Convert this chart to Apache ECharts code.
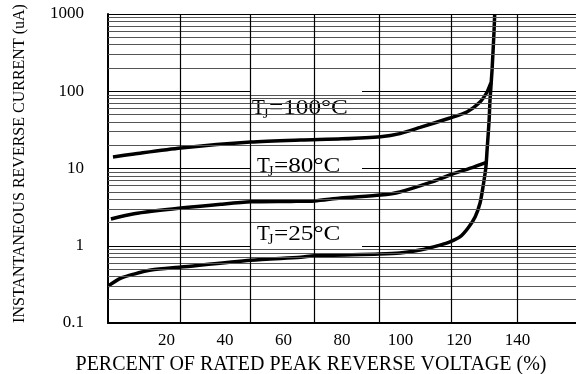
<!DOCTYPE html>
<html><head><meta charset="utf-8">
<script src="https://cdn.jsdelivr.net/npm/echarts@6/dist/echarts.min.js"></script>
<style>html,body{margin:0;padding:0;background:#fff}#c{width:576px;height:374px}</style>
</head><body><div id="c"></div>
<script>
// ---- data (x: percent of rated peak reverse voltage, y: reverse current uA) ----
const xTicks = [20, 40, 60, 80, 100, 120, 140];
const yTicks = [0.1, 1, 10, 100, 1000];

const x25 = [0, 4.4, 8.9, 14.7, 24.9, 48.8, 65.9, 70.6, 92.6, 99.8, 106.7, 113.5, 116.9, 120.3, 123.1, 125.5, 127.2, 128.2, 129.2, 129.6, 130.3, 130.6, 131.3, 132.0, 132.2];
const y25 = [0.30, 0.38, 0.43, 0.485, 0.53, 0.65, 0.71, 0.74, 0.78, 0.805, 0.88, 1.02, 1.12, 1.30, 1.70, 2.36, 3.58, 5.76, 10.5, 17.3, 42.4, 77, 188, 621, 1000];

const x80 = [1, 8.9, 24.9, 38.6, 48.8, 62.5, 70.6, 79.5, 93.2, 99.8, 110.2, 116.9, 123.9, 129.6];
const y80 = [2.22, 2.6, 3.08, 3.45, 3.7, 3.75, 3.8, 4.15, 4.54, 4.97, 6.6, 8.24, 10.1, 12.1];

const x100 = [1.7, 8.9, 24.9, 48.8, 65.9, 80, 93.2, 99.8, 106.7, 116.9, 122.7, 127.2, 129.6, 130.9];
const y100 = [14.1, 15.4, 18.4, 22.0, 23.4, 24.2, 25.8, 28.3, 34.0, 45.1, 53.9, 72.6, 97.8, 128];

// grid reference values (chart paper)
const gridX = [24.6, 48.5, 70.4, 92.6, 117.3, 139.8];
const minorMult = [2, 3, 4, 5, 6, 7, 8, 9];
const decades = [0.1, 1, 10, 100];

const serif = 'Liberation Serif';
const pair = (xs, ys) => xs.map((x, i) => [x, ys[i]]);
const minorVals = [];
decades.forEach(d => minorMult.forEach(m => minorVals.push(+(d * m).toPrecision(3))));

const chart = echarts.init(document.getElementById('c'), null, {renderer: 'canvas'});

function tempLabel(left, top, temp, tx, ty) {
  return {
    type: 'group', x: left, y: top, z: 2,
    children: [
      {type: 'rect', shape: {x: 0, y: 0, width: 112, height: 36}, style: {fill: '#fff'}, z: 2},
      {type: 'text', x: tx, y: ty, z: 2, style: {text: 'T', font: '21px ' + serif, fill: '#000', textVerticalAlign: 'middle', textBaseline: 'middle'}},
      {type: 'text', x: tx + 11, y: ty + 6, z: 2, style: {text: 'J', font: '14px ' + serif, fill: '#000', textVerticalAlign: 'middle', textBaseline: 'middle'}},
      {type: 'text', x: tx + 17, y: ty, z: 2, scaleX: 1.2, style: {text: '=' + temp + '°C', font: '21px ' + serif, fill: '#000', textVerticalAlign: 'middle', textBaseline: 'middle'}}
    ]
  };
}

const curve = (name, data) => ({
  name, type: 'line', data, showSymbol: false, smooth: 0.25, z: 3, silent: true,
  lineStyle: {color: '#000', width: 3.5}
});

chart.setOption({
  animation: false,
  grid: {left: 108, top: 14, right: 0, bottom: 51, outerBoundsMode: 'none', containLabel: false},
  xAxis: {
    type: 'value', min: 0, max: 160, interval: 20,
    axisLine: {show: true, lineStyle: {color: '#000', width: 2}},
    axisTick: {show: false}, splitLine: {show: false},
    axisLabel: {formatter: v => xTicks.includes(v) ? String(v) : '', fontFamily: serif, fontSize: 17, color: '#000', margin: 9},
    name: 'PERCENT OF RATED PEAK REVERSE VOLTAGE (%)', nameLocation: 'middle', nameGap: 32,
    nameTextStyle: {fontFamily: serif, fontSize: 20, color: '#000', padding: [0, 62, 0, 0]}
  },
  yAxis: {
    type: 'log', logBase: 10, min: 0.1, max: 1000,
    axisLine: {show: true, lineStyle: {color: '#000', width: 2}},
    axisTick: {show: false},
    splitLine: {show: true, lineStyle: {color: '#000', width: 1}},
    axisLabel: {formatter: v => { const t = yTicks.find(k => Math.abs(k - v) / k < 1e-6); return t === undefined ? '' : String(t); }, fontFamily: serif, fontSize: 17, color: '#000', margin: 24},
    name: 'INSTANTANEOUS REVERSE CURRENT (uA)', nameLocation: 'middle', nameRotate: 90, nameGap: 80,
    nameTextStyle: {fontFamily: serif, fontSize: 16, color: '#000', padding: [0, 0, 0, 10]}
  },
  series: [
    {
      type: 'line', data: [], z: 1, silent: true,
      markLine: {
        silent: true, symbol: ['none', 'none'], label: {show: false}, animation: false,
        lineStyle: {color: '#555', width: 1, type: 'solid'},
        data: minorVals.map(v => ({yAxis: v})).concat(gridX.map(v => ({xAxis: v, lineStyle: {color: '#000', width: 1.2, type: 'solid'}})))
      }
    },
    curve('TJ=25°C', pair(x25, y25)),
    curve('TJ=80°C', pair(x80, y80)),
    curve('TJ=100°C', pair(x100, y100))
  ],
  graphic: [
    tempLabel(250, 89, '100', 2, 19),
    tempLabel(250, 148, '80', 7, 18),
    tempLabel(250, 218, '25', 7, 16)
  ]
});
</script></body></html>
